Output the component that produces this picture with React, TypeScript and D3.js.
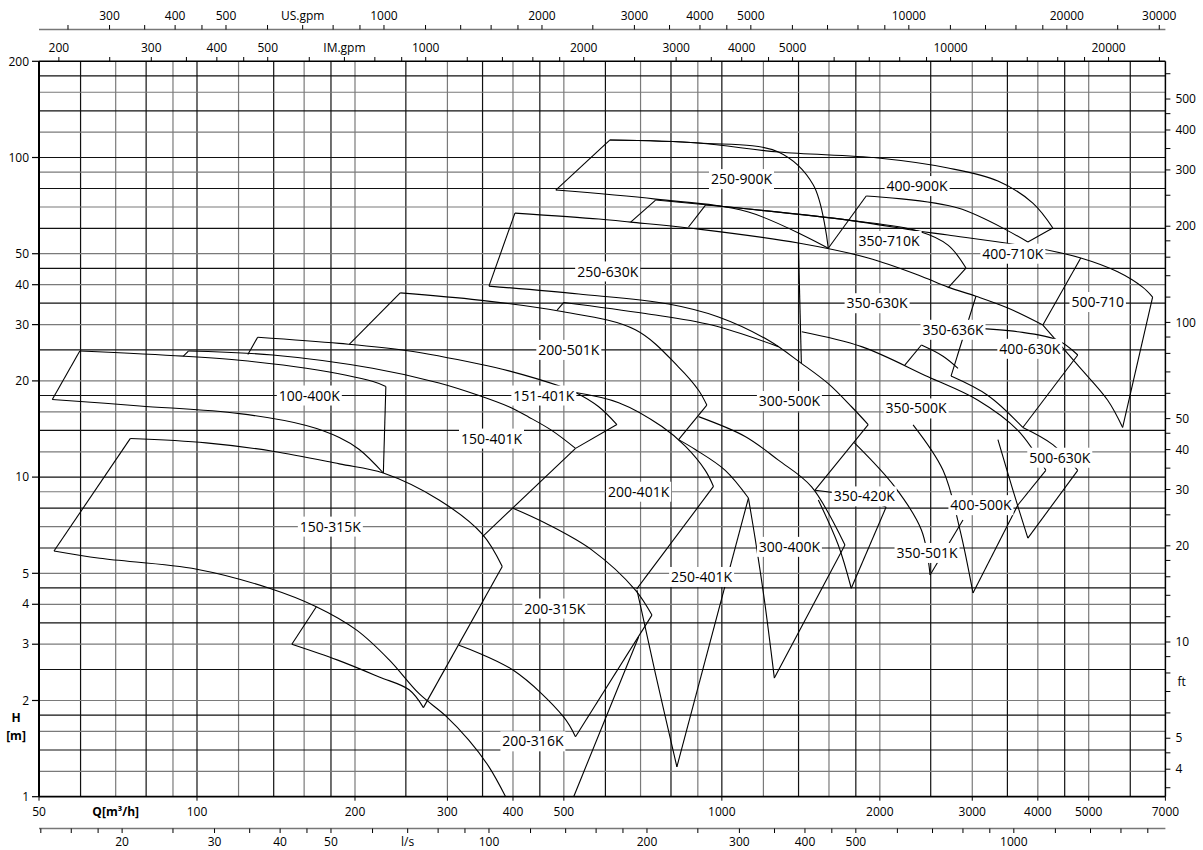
import React from 'react';
import * as d3 from 'd3';

type P = [number, number];

// ---- axes / grid values ----
const qGrid = [60, 70, 80, 90, 100, 120, 140, 160, 180, 200, 250, 300, 350, 400, 450, 500, 600, 700, 800, 900, 1000, 1200, 1400, 1600, 1800, 2000, 2500, 3000, 3500, 4000, 4500, 5000, 6000];
const hGrid = [1.2, 1.4, 1.6, 1.8, 2, 2.5, 3, 3.5, 4, 4.5, 5, 6, 7, 8, 9, 10, 12, 14, 16, 18, 20, 25, 30, 35, 40, 45, 50, 60, 70, 80, 90, 100, 120, 140, 160, 180];
const qLabels = [50, 100, 200, 300, 400, 500, 1000, 2000, 3000, 4000, 5000, 7000];
const hLabels = [1, 2, 3, 4, 5, 10, 20, 30, 40, 50, 100, 200];
const usGpmTicks = [250, 300, 350, 400, 450, 500, 600, 700, 800, 900, 1000, 1200, 1400, 1600, 1800, 2000, 2500, 3000, 3500, 4000, 4500, 5000, 6000, 7000, 8000, 9000, 10000, 12000, 14000, 16000, 18000, 20000, 25000, 30000];
const usGpmLabels = [300, 400, 500, 1000, 2000, 3000, 4000, 5000, 10000, 20000, 30000];
const imGpmTicks = [200, 250, 300, 350, 400, 450, 500, 600, 700, 800, 900, 1000, 1200, 1400, 1600, 1800, 2000, 2500, 3000, 3500, 4000, 4500, 5000, 6000, 7000, 8000, 9000, 10000, 12000, 14000, 16000, 18000, 20000, 25000];
const imGpmLabels = [200, 300, 400, 500, 1000, 2000, 3000, 4000, 5000, 10000, 20000];
const lsTicks = [14, 16, 18, 20, 25, 30, 35, 40, 45, 50, 60, 70, 80, 90, 100, 120, 140, 160, 180, 200, 250, 300, 350, 400, 450, 500, 600, 700, 800, 900, 1000, 1200, 1400, 1600, 1800];
const lsLabels = [20, 30, 40, 50, 100, 200, 300, 400, 500, 1000];
const ftTicks = [3.5, 4, 4.5, 5, 6, 7, 8, 9, 10, 12, 14, 16, 18, 20, 25, 30, 35, 40, 45, 50, 60, 70, 80, 90, 100, 120, 140, 160, 180, 200, 250, 300, 350, 400, 450, 500, 600];
const ftLabels = [4, 5, 10, 20, 30, 40, 50, 100, 200, 300, 400, 500];

// ---- pump field outlines, points are [Q m3/h, H m] ----
const pump100_400K: P[][] = [
  [[53, 17.5], [59.8, 24.8]],
  [[59.8, 24.8], [94.2, 23.9], [120.5, 23.2], [161.5, 21.9], [216.5, 19.9], [229, 19.2]],
  [[229, 19.2], [226.5, 10.3]],
  [[53, 17.5], [77.8, 16.7], [120.5, 15.8], [161.5, 14.5], [186.7, 13.3], [203.8, 12.2], [226.5, 10.3]],
];
const pump150_315K: P[][] = [
  [[53.4, 5.87], [74.6, 13.2]],
  [[74.6, 13.2], [104.1, 12.8], [139.4, 12.05], [186.7, 11.0], [226.5, 10.3], [289.2, 8.48], [349.6, 6.63], [381.6, 5.25]],
  [[381.6, 5.25], [270, 1.9]],
  [[53.4, 5.87], [65.3, 5.57], [99.9, 5.15], [137.4, 4.49], [168.8, 3.93], [201.5, 3.32], [232.4, 2.68], [265, 2.1], [297.8, 1.79], [329.8, 1.5], [360, 1.24], [387.3, 1.0]],
];
const pump200_316K: P[][] = [
  [[168.8, 3.93], [151.6, 3.0]],
  [[151.6, 3.0], [184.9, 2.68], [222.4, 2.37], [253.6, 2.16], [270, 1.9]],
  [[694, 3.16], [522, 1.0]],
];
const pump150_401K: P[][] = [
  [[94.2, 23.9], [96.3, 24.8]],
  [[96.3, 24.8], [139.4, 24.1], [216, 21.9], [289.2, 19.7], [344.6, 18.0], [392.9, 16.6], [428.9, 15.4], [474, 14.0], [526.3, 12.3]],
  [[526.3, 12.3], [349.6, 6.5]],
];
const pump151_401K: P[][] = [
  [[125, 24.2], [130.5, 27.4]],
  [[130.5, 27.4], [186.7, 26.2], [250, 24.9], [344.6, 22.6], [392.9, 21.5], [489.1, 19.3], [526.3, 18.4], [582.7, 16.6], [631, 14.6]],
  [[631, 14.6], [526.3, 12.3]],
];
const pump200_401K: P[][] = [
  [[526.3, 18.4], [636, 17.1], [768.8, 14.4], [851.8, 12.5], [929.7, 10.5], [964, 9.35]],
  [[964, 9.35], [688, 4.46]],
];
const pump200_315K: P[][] = [
  [[400, 7.99], [461.5, 7.17], [565.8, 5.91], [684.4, 4.43], [735.9, 3.7]],
  [[735.9, 3.7], [526.2, 1.54]],
  [[315.7, 2.98], [400, 2.49], [499, 1.78], [526.2, 1.54]],
];
const pump250_401K: P[][] = [
  [[827.1, 13.1], [890, 12.2], [1015, 10.5], [1123.7, 8.6]],
  [[1123.7, 8.6], [821, 1.24]],
  [[689, 4.43], [709.6, 3.57], [747, 2.43], [821, 1.24]],
];
const pump200_501K: P[][] = [
  [[195, 26.0], [243.9, 37.7]],
  [[243.9, 37.7], [344.6, 35.8], [489.1, 33.1], [684.2, 28.9], [827.1, 22.1], [902.8, 18.7], [936.2, 16.8]],
  [[936.2, 16.8], [827.1, 13.1]],
];
const pump250_630K: P[][] = [
  [[360, 39.6], [403.4, 67.0]],
  [[403.4, 67], [582.7, 64.2], [670.3, 62.8], [902.8, 59.7], [1398.8, 54.0], [1900.4, 48.5], [2365.4, 42.9], [2697.4, 39.3], [3049, 36.8], [3507.6, 33.8], [4089, 29.9]],
  [[1398.8, 54.0], [1417.4, 22.7]],
  [[360, 39.6], [533.8, 37.4], [791.7, 34.8], [985.4, 31.7], [1226.6, 26.8], [1417.4, 22.7], [1595.1, 19.6], [1766.5, 16.6], [1900.4, 14.6]],
];
const pump300_500K: P[][] = [
  [[1900.4, 14.6], [1504.8, 9.1]],
  [[485.5, 33.3], [499.9, 35.2]],
  [[499.9, 35.2], [714.9, 32.5], [957, 29.9], [1281.5, 25.6]],
];
const pump250_900K: P[][] = [
  [[482.7, 79.1], [611.5, 113.4]],
  [[611.5, 113.4], [902.8, 111.0], [1281.5, 104.0], [1493.8, 82], [1595.1, 52.0]],
  [[482.7, 79.1], [747.8, 74.1], [1123.7, 67.5], [1595.1, 52.0]],
];
const pump400_900K: P[][] = [
  [[611.5, 113.4], [902.8, 111.0], [1281.5, 104], [1985.5, 99.6], [2697.4, 92.7], [3357.4, 84.4], [3913, 72.0], [4271.6, 60.2]],
  [[4271.6, 60.2], [3828.6, 54.4]],
  [[1595.1, 52.0], [1883.8, 75.8]],
  [[1883.8, 75.8], [2818.1, 69.5], [3828.6, 54.4]],
];
const pump350_710K: P[][] = [
  [[670.3, 62.8], [747.8, 73.6]],
  [[747.8, 73.6], [1123.7, 69], [1741.1, 63.7], [2365.4, 58.9], [2697.4, 53.2], [2918.5, 45.1]],
  [[2918.5, 45.1], [2697.4, 39.06]],
];
const pump400_710K: P[][] = [
  [[864.1, 60.6], [930.8, 71.0]],
  [[930.8, 71], [1123.7, 69], [1741.1, 63.7], [2365.4, 58.9], [2697.4, 57.2], [3999.9, 52], [4829, 48.5], [5677.4, 43.9], [6334, 39.3], [6618, 36.6]],
  [[4829, 48.5], [4089, 29.9]],
];
const pump500_710: P[][] = [
  [[6618, 36.6], [5803, 14.3]],
  [[4089, 29.9], [4765.4, 22.4], [5434.2, 17.4], [5803, 14.3]],
];
const pump350_630K: P[][] = [
  [[3049, 36.8], [2733, 20.7]],
];
const pump350_500K: P[][] = [
  [[1420, 28.5], [1845.6, 25.6], [2471.3, 20.6], [3075.9, 17.4], [3664.6, 14.0], [4142.5, 10.5]],
  [[4142.5, 10.5], [3664.6, 8.18]],
];
const pump350_636K: P[][] = [
  [[2231.5, 22.4], [2400, 25.9]],
  [[2400, 25.9], [2638.8, 23.9], [2818.1, 21.9]],
];
const pump400_630K: P[][] = [
  [[2918.5, 29.3], [3664.6, 28.5], [4365.9, 26.8], [4765.4, 24.1]],
  [[4765.4, 24.1], [3745, 14.3]],
  [[2733, 20.7], [3213.6, 18.0], [3745, 14.3]],
];
const pump500_630K: P[][] = [
  [[3745, 14.3], [4271.6, 12.64], [4765.4, 10.5]],
  [[4765.4, 10.5], [3828.6, 6.44]],
  [[3357.4, 13.1], [3585.5, 9.1], [3828.6, 6.44]],
];
const pump400_500K: P[][] = [
  [[3664.6, 8.18], [3009.6, 4.34]],
  [[2314, 14.57], [2639, 10.5], [2843, 6.83], [3009.6, 4.34]],
];
const pump350_501K: P[][] = [
  [[1787.4, 12.82], [2135.9, 9.32], [2400, 6.83], [2493, 4.94]],
  [[2493, 4.94], [2880, 7.34]],
];
const pump350_420K: P[][] = [
  [[1504.8, 9.1], [1741.1, 8.78], [2056, 8.06]],
  [[2056, 8.06], [1764.3, 4.49]],
  [[1526.8, 8.48], [1666.5, 6.13], [1764.3, 4.49]],
];
const pump300_400K: P[][] = [
  [[902.8, 15.46], [1107.5, 13.4], [1281.5, 11.3], [1482.7, 9.32], [1716, 6.13]],
  [[1716, 6.13], [1259, 2.35]],
  [[1123.7, 8.6], [1158.6, 6.35], [1205.3, 4.12], [1259, 2.35]],
];

const pumps: P[][][] = [
  pump100_400K, pump150_315K, pump200_316K, pump150_401K, pump151_401K, pump200_401K, pump200_315K,
  pump250_401K, pump200_501K, pump250_630K, pump300_500K, pump250_900K, pump400_900K, pump350_710K,
  pump400_710K, pump500_710, pump350_630K, pump350_500K, pump350_636K, pump400_630K, pump500_630K,
  pump400_500K, pump350_501K, pump350_420K, pump300_400K,
];

const pumpLabels: { name: string; q: number; h: number }[] = [
  { name: '100-400K', q: 163.7, h: 18 },
  { name: '150-401K', q: 364, h: 13.2 },
  { name: '151-401K', q: 458, h: 18 },
  { name: '150-315K', q: 179.5, h: 7 },
  { name: '200-316K', q: 436.5, h: 1.49 },
  { name: '200-315K', q: 480.6, h: 3.88 },
  { name: '250-401K', q: 915, h: 4.87 },
  { name: '200-401K', q: 694.2, h: 9 },
  { name: '200-501K', q: 511, h: 25 },
  { name: '250-630K', q: 606, h: 44 },
  { name: '300-500K', q: 1345, h: 17.3 },
  { name: '350-630K', q: 1976, h: 35 },
  { name: '350-500K', q: 2345, h: 16.4 },
  { name: '350-420K', q: 1868, h: 8.7 },
  { name: '300-400K', q: 1345, h: 6.05 },
  { name: '350-636K', q: 2757, h: 28.9 },
  { name: '250-900K', q: 1090, h: 85.6 },
  { name: '400-900K', q: 2355, h: 81.4 },
  { name: '350-710K', q: 2083, h: 54.8 },
  { name: '400-710K', q: 3585, h: 50 },
  { name: '400-630K', q: 3862, h: 25.2 },
  { name: '500-710', q: 5201, h: 35.3 },
  { name: '350-501K', q: 2460, h: 5.79 },
  { name: '400-500K', q: 3116, h: 8.17 },
  { name: '500-630K', q: 4404, h: 11.5 },
];

const FONT = '"Open Sans", "DejaVu Sans", sans-serif';

const x = d3.scaleLog().domain([50, 7000]).range([39, 1165.4]);
const y = d3.scaleLog().domain([1, 200]).range([796.7, 61.3]);

const usToQ = (g: number) => g / 4.4029;
const imToQ = (g: number) => g / 3.6662;
const lsToQ = (l: number) => l * 3.6;
const ftToH = (f: number) => f / 3.28084;

const curve = d3.line<P>()
  .x(d => x(d[0]))
  .y(d => y(d[1]))
  .curve(d3.curveCatmullRom.alpha(0.5));

// rough text width for the 14px labels
const labelWidth = (s: string) =>
  s.split('').reduce((w, c) => w + (c === '-' ? 4.5 : c === 'K' ? 8.5 : 8.0), 0);

export default function App() {
  const x0 = x.range()[0], x1 = x.range()[1];
  const y0 = y.range()[0], y1 = y.range()[1];

  return (
    <svg width={1203} height={850} style={{ position: 'absolute', left: 0, top: 0, background: '#fff' }} fontFamily={FONT}>
      <rect x={0} y={0} width={1203} height={850} fill="#fff" />

      {/* grid */}
      {qGrid.map((q, i) => (
        <line key={'qg' + q} x1={x(q)} x2={x(q)} y1={y1} y2={y0} stroke={i % 2 ? '#7a7a7a' : '#111'} strokeWidth={1.2} />
      ))}
      {hGrid.map((h, i) => (
        <line key={'hg' + h} x1={x0} x2={x1} y1={y(h)} y2={y(h)} stroke={i % 2 ? '#111' : '#7a7a7a'} strokeWidth={1.2} />
      ))}

      {/* pump fields */}
      {pumps.map((segs, i) => (
        <g key={'p' + i}>
          {segs.map((s, j) => (
            <path key={j} d={curve(s) || ''} fill="none" stroke="#000" strokeWidth={1.1} />
          ))}
        </g>
      ))}

      {/* frame */}
      <line x1={x0} x2={x1} y1={y1} y2={y1} stroke="#000" strokeWidth={1.5} />
      <line x1={x0} x2={x1} y1={y0} y2={y0} stroke="#000" strokeWidth={1.8} />
      <line x1={x0} x2={x0} y1={y1} y2={y0} stroke="#000" strokeWidth={2} />
      <line x1={x1} x2={x1} y1={y1} y2={y0} stroke="#000" strokeWidth={1.5} />

      {/* pump labels */}
      {pumpLabels.map(l => {
        const w = labelWidth(l.name) + 4;
        return (
          <g key={l.name} transform={`translate(${x(l.q)},${y(l.h)})`}>
            <rect x={-w / 2} y={-10} width={w} height={20} fill="#fff" />
            <text textAnchor="middle" dy="0.36em" fontSize={14} fill="#000">{l.name}</text>
          </g>
        );
      })}

      {/* left H axis */}
      {hLabels.map(h => (
        <g key={'hl' + h}>
          <line x1={32} x2={x0} y1={y(h)} y2={y(h)} stroke="#000" strokeWidth={1.2} />
          <text x={29} y={y(h)} dy="0.35em" textAnchor="end" fontSize={12}>{h}</text>
        </g>
      ))}
      <text x={16} y={722} textAnchor="middle" fontSize={12} fontWeight="bold">H</text>
      <text x={16} y={740} textAnchor="middle" fontSize={12} fontWeight="bold">[m]</text>

      {/* right ft axis */}
      {ftTicks.map(f => (
        <line key={'ft' + f} x1={x1} x2={x1 + 5} y1={y(ftToH(f))} y2={y(ftToH(f))} stroke="#000" strokeWidth={1} />
      ))}
      {ftLabels.map(f => (
        <text key={'fl' + f} x={x1 + 10} y={y(ftToH(f))} dy="0.35em" fontSize={12}>{f}</text>
      ))}
      <text x={x1 + 12} y={y(ftToH(7.5))} dy="0.35em" fontSize={12}>ft</text>

      {/* bottom Q axis */}
      {qLabels.map(q => (
        <g key={'ql' + q}>
          <line x1={x(q)} x2={x(q)} y1={y0} y2={y0 + 4} stroke="#000" strokeWidth={1} />
          <text x={x(q)} y={816} textAnchor="middle" fontSize={12}>{q}</text>
        </g>
      ))}
      <text x={x(70)} y={816} textAnchor="middle" fontSize={12} fontWeight="bold">Q[m³/h]</text>

      {/* l/s axis */}
      <line x1={x0} x2={x1} y1={828.5} y2={828.5} stroke="#777" strokeWidth={1.5} />
      {lsTicks.map(l => (
        <line key={'ls' + l} x1={x(lsToQ(l))} x2={x(lsToQ(l))} y1={828.5} y2={833} stroke="#000" strokeWidth={1} />
      ))}
      {lsLabels.map(l => (
        <text key={'lsl' + l} x={x(lsToQ(l))} y={846} textAnchor="middle" fontSize={12}>{l}</text>
      ))}
      <text x={x(lsToQ(70))} y={846} textAnchor="middle" fontSize={12}>l/s</text>

      {/* US gpm axis */}
      <line x1={x0} x2={x1} y1={29.5} y2={29.5} stroke="#777" strokeWidth={1.5} />
      {usGpmTicks.map(g => (
        <line key={'us' + g} x1={x(usToQ(g))} x2={x(usToQ(g))} y1={25} y2={29.5} stroke="#000" strokeWidth={1} />
      ))}
      {usGpmLabels.map(g => (
        <text key={'usl' + g} x={x(usToQ(g))} y={20} textAnchor="middle" fontSize={12}>{g}</text>
      ))}
      <text x={x(usToQ(700))} y={20} textAnchor="middle" fontSize={12}>US.gpm</text>

      {/* IM gpm axis */}
      {imGpmTicks.map(g => (
        <line key={'im' + g} x1={x(imToQ(g))} x2={x(imToQ(g))} y1={57} y2={y1} stroke="#000" strokeWidth={1} />
      ))}
      {imGpmLabels.map(g => (
        <text key={'iml' + g} x={x(imToQ(g))} y={52} textAnchor="middle" fontSize={12}>{g}</text>
      ))}
      <text x={x(imToQ(700))} y={52} textAnchor="middle" fontSize={12}>IM.gpm</text>
    </svg>
  );
}
